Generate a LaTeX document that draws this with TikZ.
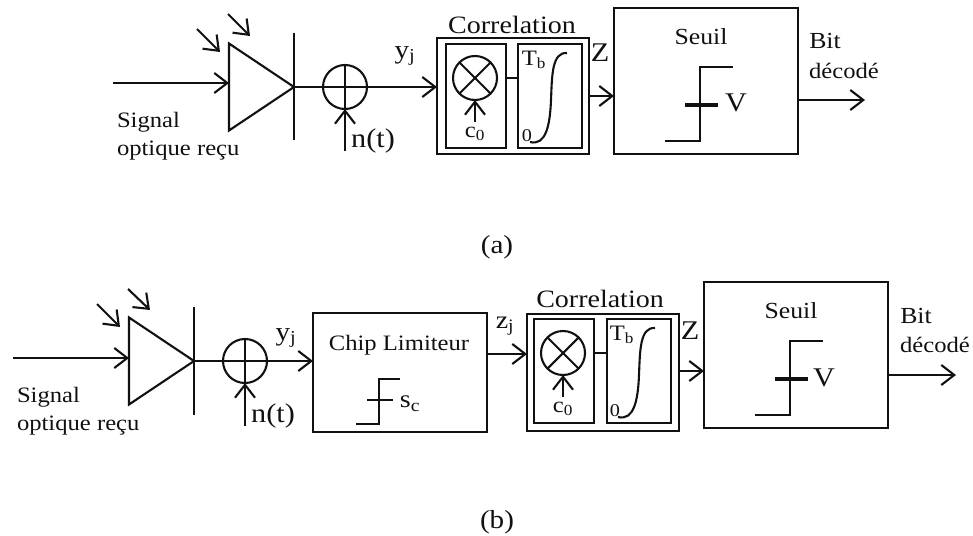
\documentclass[tikz,border=0pt]{standalone}
\usepackage{xcolor}
\usepackage{fontspec}
\setmainfont{Liberation Serif}
\newfontfamily\widefont[FakeStretch=1.12]{Liberation Serif}
\usetikzlibrary{positioning,arrows.meta,shapes.geometric}
\definecolor{ink}{HTML}{111111}
\newcommand{\lbl}[1]{\fontsize{#1}{27}\selectfont\widefont}

\begin{document}
\begin{tikzpicture}[
  x=1pt, y=-1pt, line width=2.1pt, color=ink,
  every node/.style={font=\lbl{23}, inner sep=0pt, outer sep=0pt, align=center},
  blockbox/.style={draw, minimum width=#1, anchor=north west},
  ampli/.style={draw, isosceles triangle, isosceles triangle stretches, shape border rotate=0,
               minimum width=87pt, minimum height=65pt, anchor=apex},
  sumnode/.style={draw, circle, minimum size=44pt},
  arrow/.style={-{Straight Barb[length=13pt,width=20pt,line width=2.1pt]}}
]
  \useasboundingbox (0,0) rectangle (973,535);

  % (a)
  \coordinate (inA) at (113,83);
  \coordinate (inAe) at (229,83);
  \node[ampli] (ampA) at (294,87) {};
  \node[sumnode] (sumA) at (345,87) {};
  \coordinate (barAt) at (294,33);
  \coordinate (barAb) at (294,140);
  \coordinate (nA) at (345,151);
  \coordinate (l1As) at (197,29);
  \coordinate (l1Ae) at (220,52);
  \coordinate (l2As) at (228,14);
  \coordinate (l2Ae) at (250,36);

  \node[blockbox=152pt, minimum height=116pt] (corA) at (437,38) {};
  \node[blockbox=60pt, minimum height=104pt] (mulBoxA) at (446,44) {};
  \node[blockbox=64pt, minimum height=104pt, right=12pt of mulBoxA.north east, anchor=north west] (intA) {};
  \node[sumnode] (mulA) at (475,78) {};
  \coordinate (cA) at (475,122);
  \node[blockbox=184pt, minimum height=146pt] (seuilA) at (614,8) {};
  \coordinate (outA) at (865,100);

  \node[anchor=north west] (sigA) at (117,112) {\lbl{22}Signal};
  \node[anchor=north west] (optA) at (117,141) {\lbl{22}optique reçu};
  \node (yA) at (405,56) {\lbl{26}y\textsubscript{j}};
  \node (ntA) at (373,141) {\lbl{27}n(t)};
  \node (titA) at (512,25) {\lbl{25}Correlation};
  \node (c0A) at (475,134) {\lbl{22}c\textsubscript{0}};
  \node (tbA) at (534,60) {\lbl{22}T\textsubscript{b}};
  \node (zeroA) at (527,136) {\lbl{18}0};
  \node (zA) at (600,53) {\lbl{27}Z};
  \node (seA) at (701,37) {Seuil};
  \node (vA) at (736,103) {\lbl{27}V};
  \node (bitA) at (825,41) {Bit};
  \node (decA) at (844,71) {\lbl{22}décodé};
  \node (capA) at (497,247) {\lbl{26}(a)};

  \draw[arrow] (inA) -- (inAe);
  \draw[arrow] (l1As) -- (l1Ae);
  \draw[arrow] (l2As) -- (l2Ae);
  \draw (barAt) -- (barAb);
  \draw (ampA.apex) -- (sumA.west);
  \draw[line width=2.8pt] (sumA.west) -- (sumA.east);
  \draw (sumA.north) -- (sumA.south);
  \draw[arrow] (sumA.east) -- (corA.west |- sumA);
  \draw[arrow] (nA) -- (sumA.south);
  \draw (mulA.north west) -- (mulA.south east);
  \draw (mulA.north east) -- (mulA.south west);
  \draw[arrow] (cA) -- (mulA.south);
  \draw (mulBoxA.east |- mulA) -- (intA.west |- mulA);
  \draw (530,142) .. controls (546,146) and (550,125) .. (551,100)
        .. controls (552,75) and (552,52) .. (567,53);
  \draw[arrow] (corA.east |- 0,96) -- (seuilA.west |- 0,96);
  \draw (665,141) -- (700,141) -- (700,67) -- (733,67);
  \draw[line width=3.2pt] (685,105) -- (718,105);
  \draw[arrow] (seuilA.east |- outA) -- (outA);

  % (b)
  \coordinate (inB) at (13,358);
  \coordinate (inBe) at (129,358);
  \node[ampli] (ampB) at (194,361) {};
  \node[sumnode] (sumB) at (245,361) {};
  \coordinate (barBt) at (194,307);
  \coordinate (barBb) at (194,415);
  \coordinate (nB) at (245,426);
  \coordinate (l1Bs) at (97,304);
  \coordinate (l1Be) at (120,327);
  \coordinate (l2Bs) at (128,289);
  \coordinate (l2Be) at (150,310);

  \node[blockbox=174pt, minimum height=119pt] (chip) at (313,313) {};
  \node[blockbox=152pt, minimum height=117pt, right=40pt of chip.north east, anchor=north west, yshift=-1pt] (corB) {};
  \node[blockbox=60pt, minimum height=104pt] (mulBoxB) at (534,319) {};
  \node[blockbox=64pt, minimum height=104pt, right=13pt of mulBoxB.north east, anchor=north west] (intB) {};
  \node[sumnode] (mulB) at (563,353) {};
  \coordinate (cB) at (563,397);
  \node[blockbox=184pt, minimum height=146pt] (seuilB) at (704,282) {};
  \coordinate (outB) at (956,375);

  \node[anchor=north west] (sigB) at (17,387) {\lbl{22}Signal};
  \node[anchor=north west] (optB) at (17,416) {\lbl{22}optique reçu};
  \node (yB) at (286,338) {\lbl{26}y\textsubscript{j}};
  \node (ntB) at (273,416) {\lbl{27}n(t)};
  \node (chipT) at (399,345) {\lbl{22}Chip Limiteur};
  \node (sC) at (410,404) {\lbl{25}s\textsubscript{c}};
  \node (zjB) at (505,326) {\lbl{25}z\textsubscript{j}};
  \node (titB) at (600,299) {\lbl{25}Correlation};
  \node (c0B) at (563,409) {\lbl{22}c\textsubscript{0}};
  \node (tbB) at (622,335) {\lbl{22}T\textsubscript{b}};
  \node (zeroB) at (615,411) {\lbl{18}0};
  \node (zB) at (690,331) {\lbl{27}Z};
  \node (seB) at (791,311) {Seuil};
  \node (vB) at (824,378) {\lbl{27}V};
  \node (bitB) at (916,316) {Bit};
  \node (decB) at (935,345) {\lbl{22}décodé};
  \node (capB) at (497,522) {\lbl{26}(b)};

  \draw[arrow] (inB) -- (inBe);
  \draw[arrow] (l1Bs) -- (l1Be);
  \draw[arrow] (l2Bs) -- (l2Be);
  \draw (barBt) -- (barBb);
  \draw (ampB.apex) -- (sumB.west);
  \draw[line width=2.8pt] (sumB.west) -- (sumB.east);
  \draw (sumB.north) -- (sumB.south);
  \draw[arrow] (sumB.east) -- (chip.west |- sumB);
  \draw[arrow] (nB) -- (sumB.south);
  \draw (356,424) -- (379,424) -- (379,379) -- (400,379);
  \draw (367,400) -- (393,400);
  \draw[arrow] (chip.east |- 0,354) -- (corB.west |- 0,354);
  \draw (mulB.north west) -- (mulB.south east);
  \draw (mulB.north east) -- (mulB.south west);
  \draw[arrow] (cB) -- (mulB.south);
  \draw (mulBoxB.east |- mulB) -- (intB.west |- mulB);
  \draw (618,417) .. controls (634,421) and (638,400) .. (639,375)
        .. controls (640,350) and (640,327) .. (655,328);
  \draw[arrow] (corB.east |- 0,371) -- (seuilB.west |- 0,371);
  \draw (755,415) -- (790,415) -- (790,341) -- (823,341);
  \draw[line width=3.2pt] (775,379) -- (808,379);
  \draw[arrow] (seuilB.east |- outB) -- (outB);
\end{tikzpicture}
\end{document}
